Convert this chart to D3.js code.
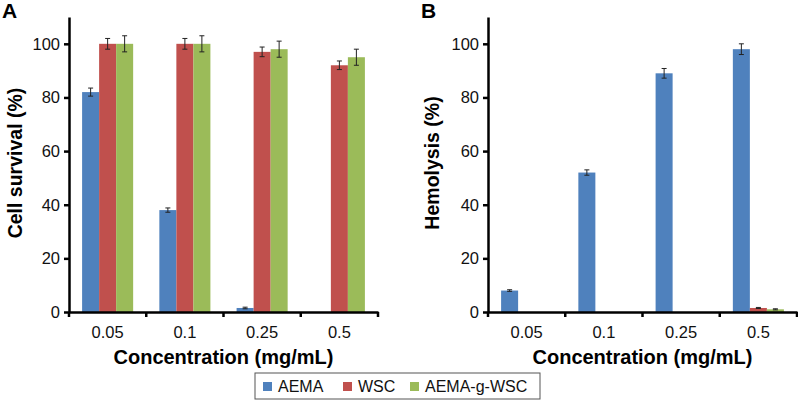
<!DOCTYPE html>
<html>
<head>
<meta charset="utf-8">
<script src="https://cdn.jsdelivr.net/npm/d3@7"></script>
<style>
  body { margin: 0; background: #fff; }
  svg { font-family: "Liberation Sans", Arial, sans-serif; }
</style>
</head>
<body>
<div id="container"></div>
<script>
// data
const concentrations = ["0.05", "0.1", "0.25", "0.5"];
const seriesNames = ["AEMA", "WSC", "AEMA-g-WSC"];
const seriesColors = ["#4F81BD", "#C0504D", "#9BBB59"];
const yTicks = [0, 20, 40, 60, 80, 100];

// panel A: cell survival
const survivalAEMA = [82, 38, 1.5, 0];
const survivalAEMAErr = [1.5, 0.8, 0.3, 0];
const survivalWSC = [100, 100, 97, 92];
const survivalWSCErr = [2, 2, 1.8, 1.6];
const survivalGraft = [100, 100, 98, 95];
const survivalGraftErr = [3, 3, 3, 3];

// panel B: hemolysis
const hemoAEMA = [8, 52, 89, 98];
const hemoAEMAErr = [0.3, 1, 1.8, 2];
const hemoWSC = [0, 0, 0, 1.5];
const hemoWSCErr = [0, 0, 0, 0.2];
const hemoGraft = [0, 0, 0, 1];
const hemoGraftErr = [0, 0, 0, 0.2];

const width = 798, height = 412;
const svg = d3.select("#container").append("svg")
    .attr("width", width)
    .attr("height", height);

function drawPanel(opts) {
    const x = d3.scaleBand().domain(concentrations).range([opts.x0, opts.x1]).padding(0);
    const xs = d3.scaleBand().domain(seriesNames).range([0, x.bandwidth()]).paddingOuter(0.77).paddingInner(0);
    const y = d3.scaleLinear().domain([0, 110]).range([312, 17]);

    const g = svg.append("g");

    opts.series.forEach((s, si) => {
        const rows = concentrations.map((c, i) => ({ c, v: s.values[i], e: s.errors[i] }));
        g.append("g").selectAll("rect").data(rows).join("rect")
            .attr("x", d => x(d.c) + xs(seriesNames[si]))
            .attr("y", d => y(d.v))
            .attr("width", xs.bandwidth())
            .attr("height", d => y(0) - y(d.v))
            .attr("fill", seriesColors[si]);

        // error bars
        const eb = g.append("g").attr("stroke", "#222").attr("stroke-width", 1)
            .selectAll("g").data(rows.filter(d => d.v > 0)).join("g")
            .attr("transform", d => `translate(${x(d.c) + xs(seriesNames[si]) + xs.bandwidth() / 2},0)`);
        eb.append("line").attr("y1", d => y(d.v - d.e)).attr("y2", d => y(d.v + d.e));
        eb.append("line").attr("x1", -2.5).attr("x2", 2.5).attr("y1", d => y(d.v + d.e)).attr("y2", d => y(d.v + d.e));
        eb.append("line").attr("x1", -2.5).attr("x2", 2.5).attr("y1", d => y(d.v - d.e)).attr("y2", d => y(d.v - d.e));
    });

    // y axis
    const yAxis = g.append("g")
        .attr("transform", `translate(${opts.x0},0)`)
        .call(d3.axisLeft(y).tickValues(yTicks).tickSize(5).tickPadding(4).tickSizeOuter(0));
    yAxis.select(".domain").attr("stroke", "#000").attr("stroke-width", 2.5);
    yAxis.selectAll(".tick line").attr("stroke", "#000").attr("stroke-width", 2.5);
    yAxis.selectAll(".tick text").attr("font-size", 16.5).attr("fill", "#111");

    // x axis
    const xAxis = g.append("g")
        .attr("transform", `translate(0,${y(0)})`)
        .call(d3.axisBottom(x).tickSize(0).tickPadding(14));
    xAxis.select(".domain").attr("stroke", "#000").attr("stroke-width", 2.5);
    xAxis.selectAll(".tick text").attr("font-size", 16.5).attr("fill", "#111");
    // category separators
    const edges = concentrations.map(c => x(c)).concat([opts.x1]);
    xAxis.selectAll("line.sep").data(edges).join("line")
        .attr("class", "sep")
        .attr("x1", d => d).attr("x2", d => d)
        .attr("y1", 0).attr("y2", 5)
        .attr("stroke", "#000").attr("stroke-width", 2.5);

    g.append("text")
        .attr("x", (opts.x0 + opts.x1) / 2).attr("y", 364)
        .attr("text-anchor", "middle")
        .attr("font-size", 20).attr("font-weight", "bold")
        .text("Concentration (mg/mL)");

    g.append("text")
        .attr("transform", `translate(${opts.titleX},163) rotate(-90)`)
        .attr("text-anchor", "middle")
        .attr("font-size", 19.5).attr("font-weight", "bold")
        .text(opts.yTitle);

    g.append("text")
        .attr("x", opts.letterX).attr("y", 18)
        .attr("font-size", 21).attr("font-weight", "bold")
        .text(opts.letter);
}

drawPanel({
    x0: 69, x1: 378, letter: "A", letterX: 2, titleX: 22, yTitle: "Cell survival (%)",
    series: [
        { values: survivalAEMA, errors: survivalAEMAErr },
        { values: survivalWSC, errors: survivalWSCErr },
        { values: survivalGraft, errors: survivalGraftErr }
    ]
});

drawPanel({
    x0: 488, x1: 797, letter: "B", letterX: 421, titleX: 439, yTitle: "Hemolysis (%)",
    series: [
        { values: hemoAEMA, errors: hemoAEMAErr },
        { values: hemoWSC, errors: hemoWSCErr },
        { values: hemoGraft, errors: hemoGraftErr }
    ]
});

// legend
const legend = svg.append("g").attr("transform", "translate(255,373)");
legend.append("rect")
    .attr("width", 285).attr("height", 26)
    .attr("fill", "#fff").attr("stroke", "#555").attr("stroke-width", 1);
const legendX = [8, 88, 155];
const items = legend.selectAll("g.item").data(seriesNames).join("g")
    .attr("class", "item")
    .attr("transform", (d, i) => `translate(${legendX[i]},0)`);
items.append("rect")
    .attr("y", 9).attr("width", 9).attr("height", 9)
    .attr("fill", (d, i) => seriesColors[i]);
items.append("text")
    .attr("x", 15).attr("y", 19)
    .attr("font-size", 16).attr("fill", "#111")
    .text(d => d);
</script>
</body>
</html>
